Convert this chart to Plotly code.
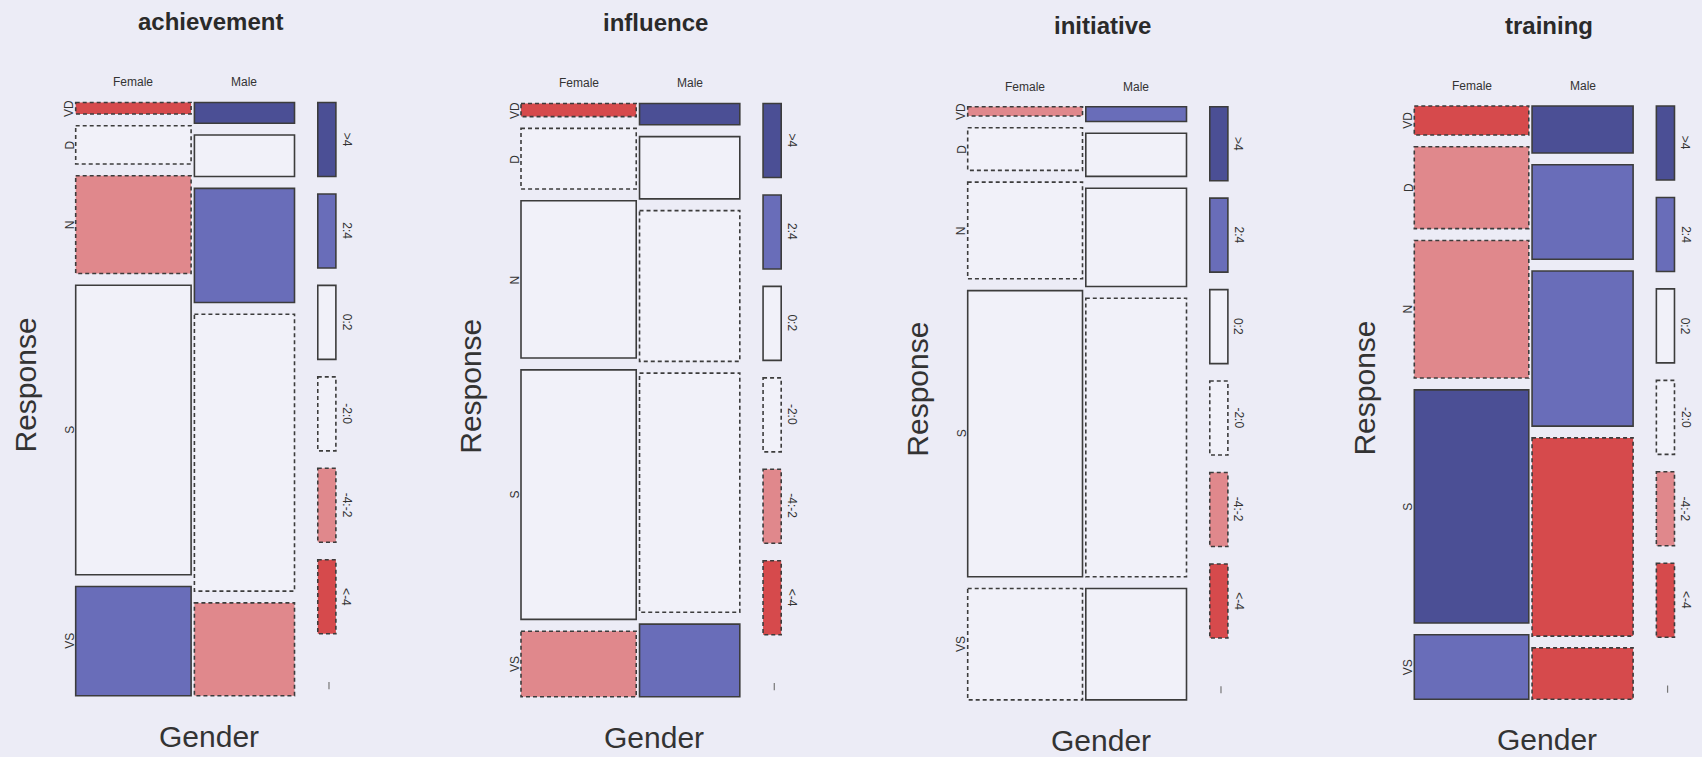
import plotly.graph_objects as go

# ---- data -------------------------------------------------------------
QUESTIONS = ["achievement", "influence", "initiative", "training"]
GENDERS = ["Female", "Male"]
RESPONSES = ["VD", "D", "N", "S", "VS"]

# share of respondents who are female (column widths)
female_share = [0.5355, 0.5347, 0.5327, 0.5312]

# response distribution within each gender, percent (VD, D, N, S, VS)
achievement_female = [2.1, 7.0, 17.9, 53.0, 20.0]
achievement_male = [3.8, 7.6, 20.9, 50.7, 17.0]
influence_female = [2.4, 11.1, 28.8, 45.7, 12.0]
influence_male = [3.9, 11.4, 27.6, 43.8, 13.3]
initiative_female = [1.7, 7.8, 17.7, 52.4, 20.4]
initiative_male = [2.7, 7.9, 18.0, 51.0, 20.4]
training_female = [5.3, 15.0, 25.2, 42.7, 11.8]
training_male = [8.6, 17.3, 28.4, 36.3, 9.4]

# Pearson residuals of the independence model (VD, D, N, S, VS)
achievement_resid_female = [-4.9, -1.1, -3.5, 1.5, 3.6]
achievement_resid_male = [5.3, 1.2, 3.7, -1.7, -3.8]
influence_resid_female = [-4.6, -0.4, 0.8, 1.1, -2.6]
influence_resid_male = [4.9, 0.4, -0.9, -1.2, 2.8]
initiative_resid_female = [-3.1, -0.3, -0.5, 0.9, -0.2]
initiative_resid_male = [3.3, 0.3, 0.5, -1.0, 0.2]
training_resid_female = [-6.2, -3.1, -3.4, 7.5, 3.2]
training_resid_male = [6.6, 3.3, 3.6, -8.0, -4.3]

LEGEND_LABELS = [">4", "2:4", "0:2", "-2:0", "-4:-2", "<-4"]

panels = [
    (achievement_female, achievement_male, achievement_resid_female, achievement_resid_male),
    (influence_female, influence_male, influence_resid_female, influence_resid_male),
    (initiative_female, initiative_male, initiative_resid_female, initiative_resid_male),
    (training_female, training_male, training_resid_female, training_resid_male),
]

# ---- styling ----------------------------------------------------------
BG = "#ececf6"
FONT = "Liberation Sans, Arial, sans-serif"
INK = "#333333"
EDGE = "#3c3c3c"
DASH = "4px,3px"
FILLS = ["#4b4f95", "#696db9", "#f1f1f9", "#f1f1f9", "#e0888c", "#d64a4c"]
SOLID = [True, True, True, False, False, False]

W_PX, H_PX = 1702, 757
PANEL_LEFT = [75.7, 521.0, 967.7, 1414.3]
PANEL_TOP = [102.5, 103.5, 106.7, 106.0]
UNIT_X = 215.5      # px per unit of column width
UNIT_Y = 546.0      # px per unit of column height
GAP_X = 3.3 / UNIT_X
GAP_Y = 11.8 / UNIT_Y
LEG_OFF = 0.108
LEG_W = 0.084
LEG_H = 0.1355
LEG_GAP = 0.032

# axis extents (units) leave room for labels around the mosaic
X_LO, X_HI = -0.30, 1 + GAP_X + 0.30
Y_LO, Y_HI = -0.17, 1 + 4 * GAP_Y + 0.09
Y_BOTTOM = 1 + 4 * GAP_Y


def shade_level(r):
    if r > 4:
        return 0
    if r > 2:
        return 1
    if r >= 0:
        return 2
    if r >= -2:
        return 3
    if r >= -4:
        return 4
    return 5


fig = go.Figure()
shapes = []
annotations = []

for i, (q, data) in enumerate(zip(QUESTIONS, panels)):
    fem, mal, rf, rm = data
    ax = "" if i == 0 else str(i + 1)
    xref, yref = "x" + ax, "y" + ax
    left, top = PANEL_LEFT[i], PANEL_TOP[i]

    fig.update_layout(**{
        "xaxis" + ax: dict(
            domain=[(left + X_LO * UNIT_X) / W_PX, (left + X_HI * UNIT_X) / W_PX],
            range=[X_LO, X_HI], visible=False, fixedrange=True),
        "yaxis" + ax: dict(
            domain=[1 - (top + Y_HI * UNIT_Y) / H_PX, 1 - (top + Y_LO * UNIT_Y) / H_PX],
            range=[Y_HI, Y_LO], visible=False, fixedrange=True),
    })
    fig.add_trace(go.Scatter(x=[], y=[], xaxis=xref, yaxis=yref, showlegend=False))

    fs = female_share[i]
    columns = [(0.0, fs, fem, rf), (fs + GAP_X, 1 + GAP_X, mal, rm)]
    for g, (x0, x1, pct, res) in enumerate(columns):
        total = sum(pct)
        y = 0.0
        for j, (p, r) in enumerate(zip(pct, res)):
            h = p / total
            lvl = shade_level(r)
            shapes.append(dict(
                type="rect", xref=xref, yref=yref,
                x0=x0, x1=x1, y0=y, y1=y + h,
                fillcolor=FILLS[lvl],
                line=dict(color=EDGE, width=1.6,
                          dash="solid" if SOLID[lvl] else DASH),
                layer="above"))
            if g == 0:
                annotations.append(dict(
                    xref=xref, yref=yref, x=-0.028, y=y + h / 2,
                    text=RESPONSES[j], showarrow=False, textangle=-90,
                    xanchor="center", yanchor="middle",
                    font=dict(family=FONT, size=12, color=INK)))
            y += h + GAP_Y
        annotations.append(dict(
            xref=xref, yref=yref, x=(x0 + x1) / 2, y=-0.037,
            text=GENDERS[g], showarrow=False,
            xanchor="center", yanchor="middle",
            font=dict(family=FONT, size=12, color=INK)))

    # shading key
    lx0 = 1 + GAP_X + LEG_OFF
    for k, lab in enumerate(LEGEND_LABELS):
        y0 = k * (LEG_H + LEG_GAP)
        shapes.append(dict(
            type="rect", xref=xref, yref=yref,
            x0=lx0, x1=lx0 + LEG_W, y0=y0, y1=y0 + LEG_H,
            fillcolor=FILLS[k],
            line=dict(color=EDGE, width=1.6, dash="solid" if SOLID[k] else DASH),
            layer="above"))
        annotations.append(dict(
            xref=xref, yref=yref, x=lx0 + LEG_W + 0.05, y=y0 + LEG_H / 2,
            text=lab, showarrow=False, textangle=90,
            xanchor="center", yanchor="middle",
            font=dict(family=FONT, size=12, color=INK)))
    shapes.append(dict(
        type="line", xref=xref, yref=yref,
        x0=lx0 + LEG_W / 2 + 0.01, x1=lx0 + LEG_W / 2 + 0.01,
        y0=Y_BOTTOM - 0.025, y1=Y_BOTTOM - 0.012,
        line=dict(color="#777777", width=1.2)))

    annotations.append(dict(
        xref=xref, yref=yref, x=0.625, y=-0.148, text="<b>%s</b>" % q,
        showarrow=False, xanchor="center", yanchor="middle",
        font=dict(family=FONT, size=24, color="#2a2a2a")))
    annotations.append(dict(
        xref=xref, yref=yref, x=0.617, y=1.161, text="Gender",
        showarrow=False, xanchor="center", yanchor="middle",
        font=dict(family=FONT, size=30, color=INK)))
    annotations.append(dict(
        xref=xref, yref=yref, x=-0.232, y=0.517, text="Response",
        showarrow=False, textangle=-90, xanchor="center", yanchor="middle",
        font=dict(family=FONT, size=30, color=INK)))

fig.update_layout(
    width=W_PX, height=H_PX,
    margin=dict(l=0, r=0, t=0, b=0),
    paper_bgcolor=BG, plot_bgcolor=BG,
    showlegend=False,
    shapes=shapes, annotations=annotations,
)

fig.write_html("out.html")
